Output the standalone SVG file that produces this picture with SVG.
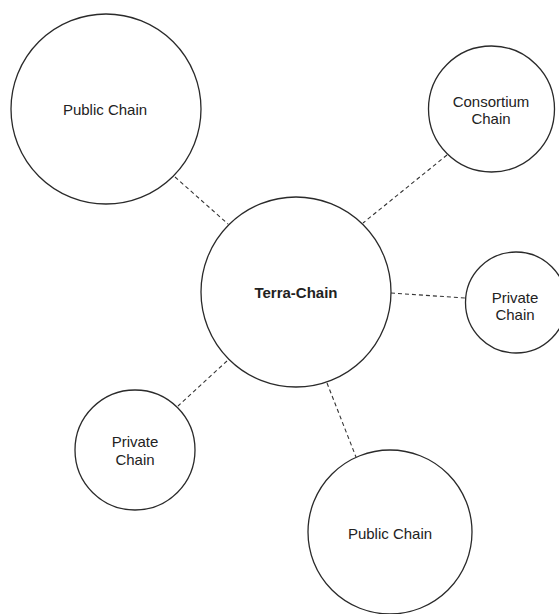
<svg xmlns="http://www.w3.org/2000/svg" width="559" height="614" viewBox="0 0 559 614">
<style>
.node circle{fill:#fff;stroke:#2a2a2a;stroke-width:1.3}
text{font-family:"Liberation Sans",Arial,sans-serif;font-size:15px;fill:#222;text-anchor:middle}
.bold{font-weight:bold}
.edge{stroke:#333;stroke-width:1.1;stroke-dasharray:4 3;fill:none}
</style>
<rect width="559" height="614" fill="#fff"/>
<g id="connectors">
<line class="edge" x1="175" y1="177" x2="228" y2="224"/>
<line class="edge" x1="447" y1="155" x2="363" y2="223"/>
<line class="edge" x1="391" y1="293" x2="465" y2="298"/>
<line class="edge" x1="227" y1="361" x2="178" y2="406"/>
<line class="edge" x1="327" y1="383" x2="356" y2="457"/>
</g>
<g id="public-top" class="node">
<circle cx="106" cy="109" r="95"/>
<text x="105" y="115">Public Chain</text>
</g>
<g id="consortium" class="node">
<circle cx="491.5" cy="109" r="63"/>
<text x="491" y="107">Consortium</text>
<text x="491" y="124">Chain</text>
</g>
<g id="terra" class="node">
<circle cx="296" cy="292" r="95"/>
<text class="bold" x="296" y="298">Terra-Chain</text>
</g>
<g id="private-right" class="node">
<circle cx="516" cy="302.5" r="50.5"/>
<text x="515" y="303">Private</text>
<text x="515" y="320">Chain</text>
</g>
<g id="private-left" class="node">
<circle cx="135" cy="450" r="60"/>
<text x="135" y="447">Private</text>
<text x="135" y="465">Chain</text>
</g>
<g id="public-bottom" class="node">
<circle cx="390" cy="532" r="82"/>
<text x="390" y="539">Public Chain</text>
</g>
</svg>
